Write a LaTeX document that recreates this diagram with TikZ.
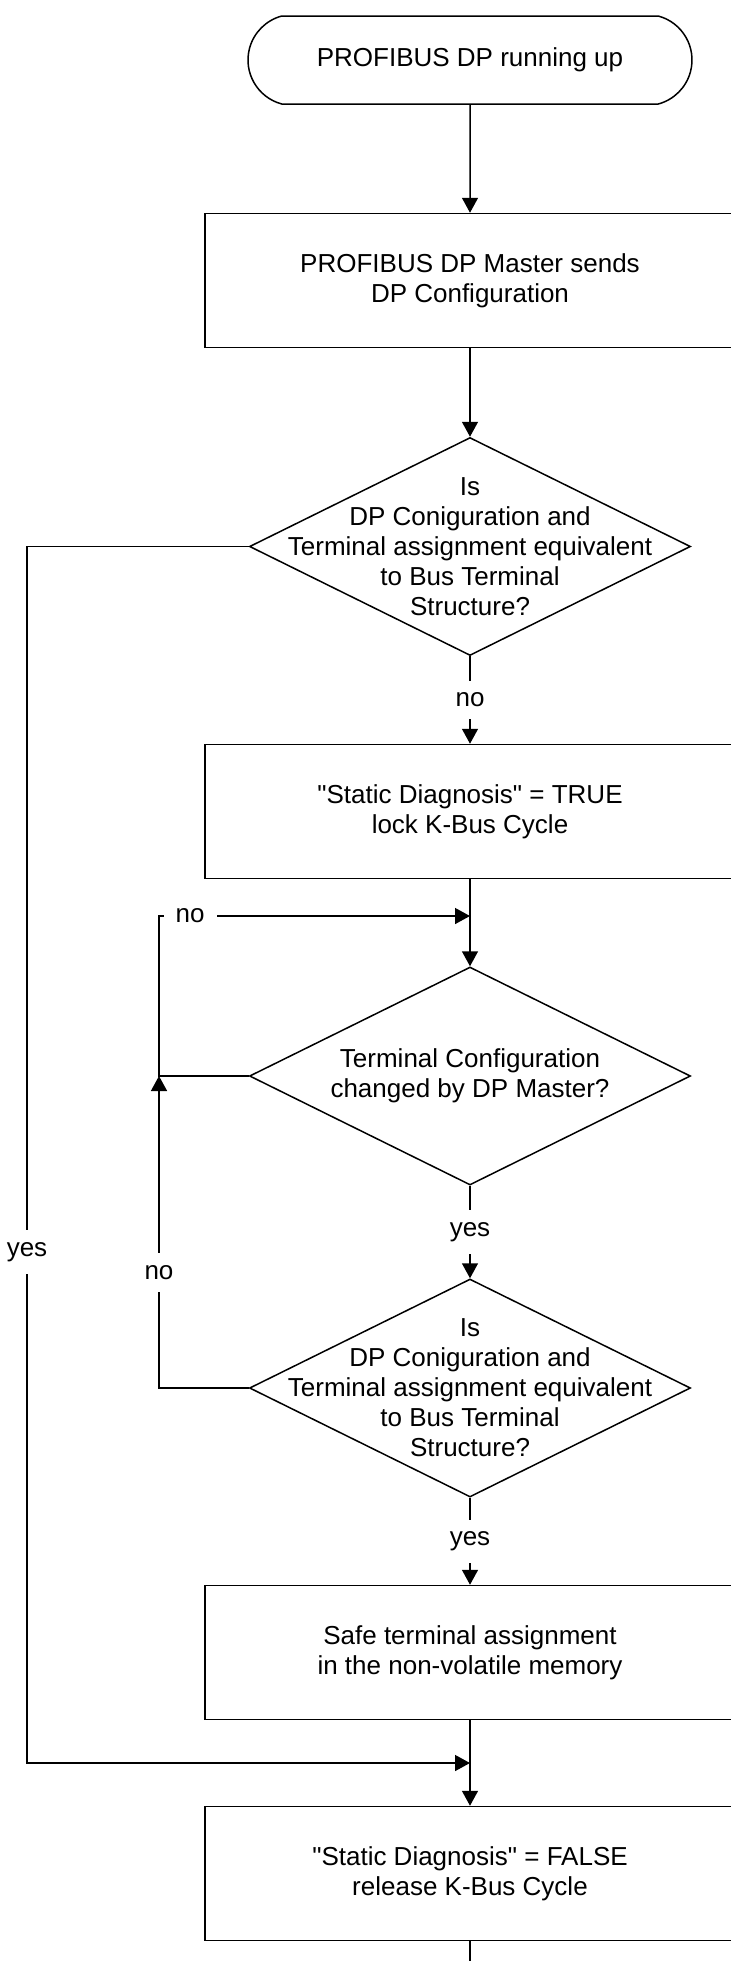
\documentclass[tikz,border=0pt]{standalone}
\usepackage{fontspec}
\setmainfont{Liberation Sans}
\usetikzlibrary{arrows.meta,shapes.geometric,shapes.misc}

\begin{document}
\begin{tikzpicture}[x=0.5pt,y=-0.5pt,>={Triangle[length=7.5pt,width=8pt]},line width=0.75pt,
  every node/.style={font=\fontsize{13}{15}\selectfont},
  terminal/.style={draw,rounded rectangle,rounded rectangle arc length=150,minimum width=222pt,minimum height=44pt,inner sep=0pt},
  process/.style={draw,rectangle,minimum width=265pt,minimum height=67pt,align=center,inner sep=0pt},
  decision/.style={draw,diamond,minimum width=220.5pt,minimum height=109pt,inner sep=0pt},
  qtext/.style={align=center,inner sep=0pt},
  lbl/.style={fill=white,inner xsep=6pt,inner ysep=6pt}]
  \useasboundingbox (0,0) rectangle (731,1961);
  \clip (0,0) rectangle (731,1961);

  \node[terminal] (start) at (470,60) {PROFIBUS DP running up};
  \node[process] (cfg) at (470,280.5) {PROFIBUS DP Master sends\\DP Configuration};
  \node[decision,label={[qtext]center:{Is\\DP Coniguration and\\Terminal assignment equivalent\\to Bus Terminal\\Structure?}}] (chk1) at (470,546.5) {};
  \node[process] (diag) at (470,811.5) {\textquotedbl Static Diagnosis\textquotedbl\ = TRUE\\lock K-Bus Cycle};
  \node[decision,label={[qtext]center:{Terminal Configuration\\changed by DP Master?}}] (chg) at (470,1076) {};
  \node[decision,label={[qtext]center:{Is\\DP Coniguration and\\Terminal assignment equivalent\\to Bus Terminal\\Structure?}}] (chk2) at (470,1388) {};
  \node[process] (save) at (470,1652.5) {Safe terminal assignment\\in the non-volatile memory};
  \node[process] (rel) at (470,1873.5) {\textquotedbl Static Diagnosis\textquotedbl\ = FALSE\\release K-Bus Cycle};

  \coordinate (m1) at (470,916);
  \coordinate (m2) at (470,1763);
  \coordinate (lp) at (159,1076);
  \coordinate (yl) at (27,1763);
  \coordinate (out) at (470,1975);

  % main line
  \draw[->] (start) -- (cfg);
  \draw[->] (cfg) -- (chk1);
  \draw[->] (chk1) -- node[lbl]{no} (diag);
  \draw[->] (diag) -- (chg);
  \draw[->] (chg) -- node[lbl]{yes} (chk2);
  \draw[->] (chk2) -- node[lbl]{yes} (save);
  \draw[->] (save) -- (rel);
  \draw (rel) -- (out);

  % side branches
  \draw[->] (chk1.west) -| node[lbl,pos=0.79]{yes} (yl) -- (m2);
  \draw[->] (chk2.west) -| node[lbl,pos=0.685]{no} (lp);
  \draw[->] (chg.west) -- (lp) |- node[lbl,pos=0.55]{no} (m1);
\end{tikzpicture}
\end{document}
